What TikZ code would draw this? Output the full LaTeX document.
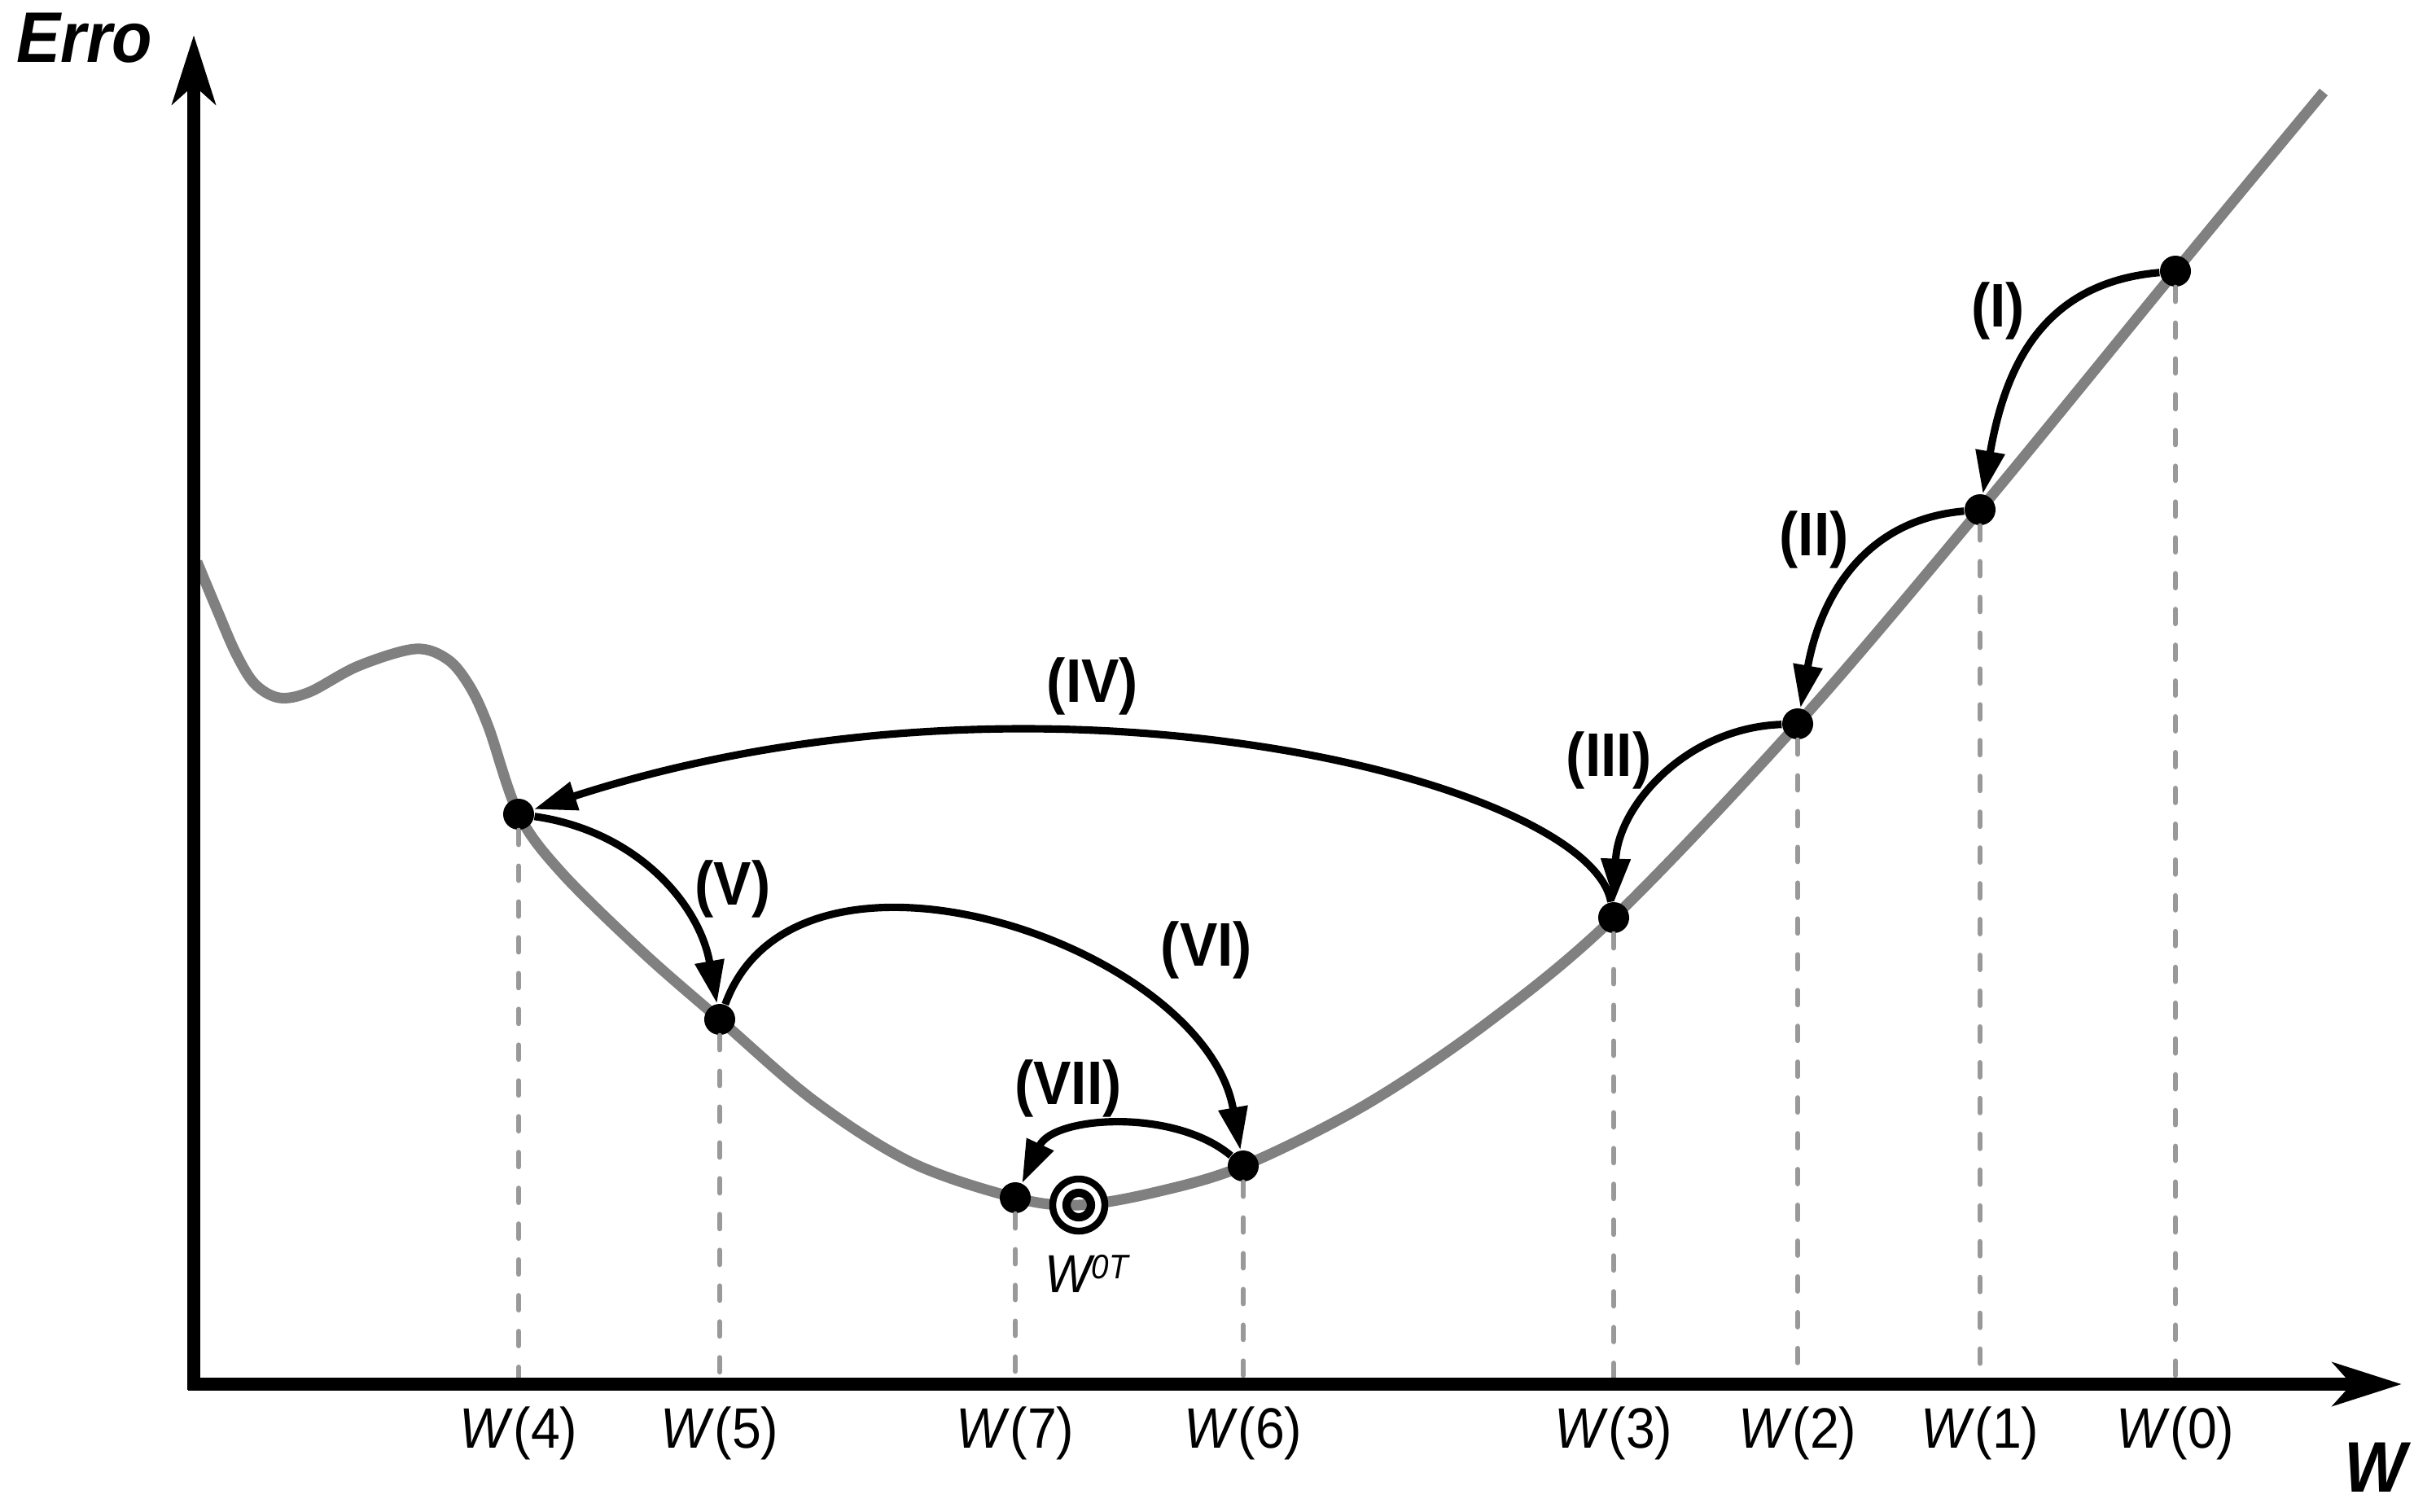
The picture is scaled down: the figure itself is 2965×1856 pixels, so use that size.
\documentclass[tikz,border=0pt]{standalone}
\usepackage{fontspec}
\setmainfont[FakeStretch=0.92]{Liberation Sans}
\usetikzlibrary{arrows.meta,calc}

\definecolor{curvegray}{RGB}{128,128,128}
\definecolor{dropgray}{RGB}{153,153,153}

\begin{document}
\begin{tikzpicture}[x=0.01cm, y=-0.01cm,
  dot/.style={circle, fill=black, inner sep=0pt, minimum size=0.38cm},
  axis/.style={line width=4.3pt, -{Stealth[length=24pt, width=15pt, inset=6.5pt]}},
  drop/.style={draw=dropgray, line width=1.8pt, line cap=round, dash pattern=on 5pt off 7.5pt},
  jump/.style={->, >={Triangle[length=15pt, width=9.8pt]}, line width=2.6pt},
  steplabel/.style={font=\fontsize{21.5}{21}\selectfont\bfseries, inner sep=0pt},
  wlabel/.style={font=\fontsize{19.9}{20}\selectfont, anchor=base, inner sep=0pt}]
  \useasboundingbox (0,0) rectangle (2965,1856);

  % error curve
  \draw[curvegray, line width=3.7pt] plot[smooth, tension=0.55] coordinates {
    (242,690) (267,750) (290,803) (313,840) (343,857) (380,850) (440,818)
    (510,797) (550,810) (577,843) (600,893) (637,1000) (690,1072)
    (790,1170) (885,1253) (1000,1352) (1120,1428)
    (1247,1471) (1325,1480) (1420,1464) (1527,1432) (1677,1357) (1827,1256)
    (1982,1127) (2208,889) (2432,626) (2672,333) (2854,113)};

  % weights
  \node[dot] (w0) at (2672,333) {};
  \node[dot] (w1) at (2432,626) {};
  \node[dot] (w2) at (2208,889) {};
  \node[dot] (w3) at (1982,1127) {};
  \node[dot] (w4) at (637,1000) {};
  \node[dot] (w5) at (884,1252) {};
  \node[dot] (w6) at (1527,1432) {};
  \node[dot] (w7) at (1247,1471) {};

  % optimum
  \coordinate (wot) at (1325,1480);
  \draw[white, line width=2.3pt] (wot) circle[radius=0.24cm];
  \draw[line width=2.4pt] (wot) circle[radius=0.32cm];
  \draw[line width=2.9pt] (wot) circle[radius=0.15cm];
  \node[anchor=base west, inner sep=0pt] (wotlabel) at (1283,1587)
    {\fontsize{18.7}{19}\selectfont\itshape W\raisebox{4.8pt}{\fontsize{11.9}{12}\selectfont 0T}};

  \coordinate (O) at (238,1700);
  \coordinate (ybase) at (238,1707);
  \coordinate (ytip) at (238,43);
  \coordinate (xbase) at (231,1700);
  \coordinate (xtip) at (2950,1700);
  \coordinate (base) at (0,1778);

  % drop lines
  \draw[drop] (w0) -- (w0 |- O);
  \draw[drop] (w1) -- (w1 |- O);
  \draw[drop] (w2) -- (w2 |- O);
  \draw[drop] (w3) -- (w3 |- O);
  \draw[drop] (w4) -- (w4 |- O);
  \draw[drop] (w5) -- (w5 |- O);
  \draw[drop] (w6) -- (w6 |- O);
  \draw[drop] (w7) -- (w7 |- O);

  % steps
  \begin{scope}[jump]
  \path
  (w0) edge [out=185, in=80, looseness=1.1] (w1)
  (w1) edge [out=185, in=80, looseness=1.05] (w2)
  (w2) edge [out=182, in=88] (w3)
  (w3) edge [out=100, in=18, out distance=1.5cm, in distance=6.6cm] (w4)
  (w4) edge [out=-8, in=100] (w5)
  (w5) edge [out=70, in=100] (w6)
  (w6) edge [out=140, in=65, looseness=0.9] (w7)
  ;
  \end{scope}

  \node[steplabel] (lI) at (2454,382) {(I)};
  \node[steplabel] (lII) at (2228,663) {(II)};
  \node[steplabel] (lIII) at (1976,934) {(III)};
  \node[steplabel] (lIV) at (1342,843) {(IV)};
  \node[steplabel] (lV) at (900,1092) {(V)};
  \node[steplabel] (lVI) at (1482,1167) {(VI)};
  \node[steplabel] (lVII) at (1312,1337) {(VII)};

  \node[wlabel] (lw0) at (w0 |- base) {\textit{W}(0)};
  \node[wlabel] (lw1) at (w1 |- base) {\textit{W}(1)};
  \node[wlabel] (lw2) at (w2 |- base) {\textit{W}(2)};
  \node[wlabel] (lw3) at (w3 |- base) {\textit{W}(3)};
  \node[wlabel] (lw4) at (w4 |- base) {\textit{W}(4)};
  \node[wlabel] (lw5) at (w5 |- base) {\textit{W}(5)};
  \node[wlabel] (lw6) at (w6 |- base) {\textit{W}(6)};
  \node[wlabel] (lw7) at (w7 |- base) {\textit{W}(7)};

  % axes
  \draw[axis] (ybase) -- (ytip);
  \draw[axis] (xbase) -- (xtip);
  \node[anchor=base west, inner sep=0pt, font=\fontsize{25}{25}\selectfont\bfseries\itshape] (erro) at (20,76) {Erro};
  \node[anchor=base, inner sep=0pt, font=\fontsize{25}{25}\selectfont\bfseries\itshape] (wname) at (2918,1832) {W};
\end{tikzpicture}
\end{document}
